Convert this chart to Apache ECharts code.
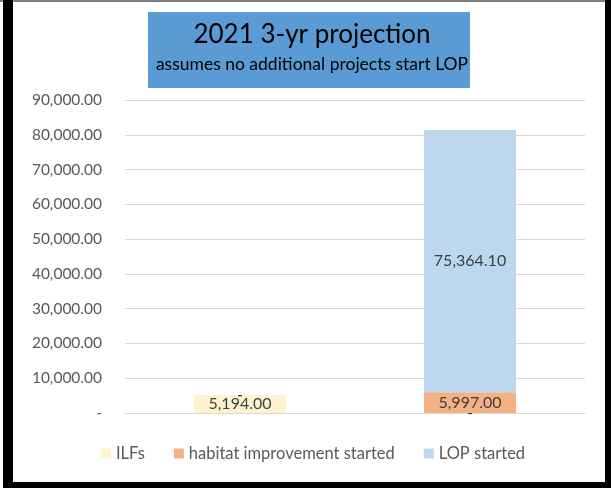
<!DOCTYPE html>
<html>
<head>
<meta charset="utf-8">
<script src="https://cdn.jsdelivr.net/npm/echarts@6/dist/echarts.min.js"></script>
<style>
  html, body { margin: 0; padding: 0; background: #fff; }
  .myChart-wrapper { width: 611px; height: 491px; }
</style>
</head>
<body>
<div id="myChart" class="myChart-wrapper"></div>
<script>
// 数据
var categories = ['2021', '3-yr'];
var ilfs = [5194.00, 0];
var habitat = [0, 5997.00];
var lopStarted = [0, 75364.10];
var yTicks = [0, 10000, 20000, 30000, 40000, 50000, 60000, 70000, 80000, 90000];

function acct(v) {
  if (!v) return '-';
  return v.toLocaleString('en-US', { minimumFractionDigits: 2, maximumFractionDigits: 2 });
}

var myChart = echarts.init(document.getElementById('myChart'));
var labelStyle = {
  show: true,
  position: 'inside',
  color: '#404040',
  fontSize: 16,
  fontFamily: 'Lato',
  formatter: function (p) { return acct(p.value); }
};
var option = {
  animation: false,
  textStyle: { fontFamily: 'Lato' },
  graphic: [
    // 外框
    { type: 'rect', shape: { x: 0, y: 0, width: 611, height: 2 }, style: { fill: '#808080' } },
    { type: 'rect', shape: { x: 3, y: 0, width: 10, height: 488 }, style: { fill: '#000' } },
    { type: 'rect', shape: { x: 605, y: 0, width: 6, height: 488 }, style: { fill: '#000' } },
    { type: 'rect', shape: { x: 3, y: 482, width: 608, height: 6 }, style: { fill: '#000' } },
    // 标题背景
    { type: 'rect', z: -1, shape: { x: 148, y: 12, width: 322, height: 76 }, style: { fill: '#5B9BD5' } }
  ],
  title: {
    text: '2021 3-yr projection',
    subtext: 'assumes no additional projects start LOP',
    left: 307,
    textAlign: 'center',
    top: 17,
    itemGap: 7,
    textStyle: { color: '#000', fontSize: 26, fontWeight: 'normal', fontFamily: 'Lato' },
    subtextStyle: { color: '#000', fontSize: 17.5, fontFamily: 'Lato' }
  },
  legend: {
    bottom: 24,
    left: 96,
    itemWidth: 10,
    itemHeight: 10,
    itemGap: 29,
    icon: 'rect',
    textStyle: { color: '#595959', fontSize: 16.5, fontFamily: 'Lato' },
    data: ['ILFs', 'habitat improvement started', 'LOP started']
  },
  grid: { left: 125, right: 26, top: 100, bottom: 78 },
  xAxis: {
    type: 'category',
    data: categories,
    axisTick: { show: false },
    axisLabel: { show: false },
    axisLine: { show: true, lineStyle: { color: '#d9d9d9', width: 1 } }
  },
  yAxis: {
    type: 'value',
    min: yTicks[0],
    max: yTicks[yTicks.length - 1],
    interval: 10000,
    axisLine: { show: false },
    axisTick: { show: false },
    axisLabel: {
      color: '#595959',
      fontSize: 15.5,
      margin: 23,
      fontFamily: 'Lato',
      formatter: function (v) { return acct(v); }
    },
    splitLine: { lineStyle: { color: '#d9d9d9', width: 1 } }
  },
  series: [
    { name: 'ILFs', type: 'bar', stack: 'a', barWidth: '40%', color: '#FFF2CC', label: labelStyle, data: ilfs },
    { name: 'habitat improvement started', type: 'bar', stack: 'a', color: '#F4B183', label: labelStyle, data: habitat },
    { name: 'LOP started', type: 'bar', stack: 'a', color: '#BDD7EE', label: labelStyle, data: lopStarted }
  ]
};
myChart.setOption(option);
</script>
</body>
</html>
